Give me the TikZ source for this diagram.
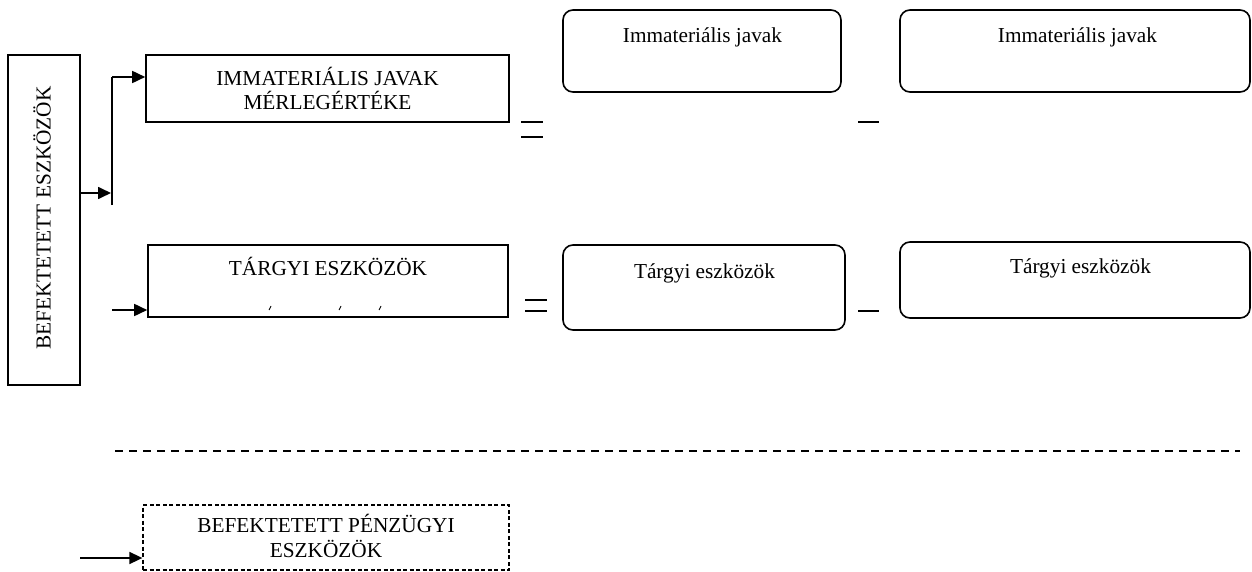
\documentclass[tikz,border=0pt]{standalone}
\usepackage{fontspec}
\setmainfont{Liberation Serif}
\usetikzlibrary{arrows.meta}
\begin{document}
\begin{tikzpicture}[x=1pt,y=-1pt,
  every node/.style={font=\fontsize{21.3}{24.5}\selectfont, inner sep=0pt},
  sqbox/.style={draw, line width=1.6pt, inner sep=0pt},
  rbox/.style={draw, line width=1.6pt, rounded corners=10pt, inner sep=0pt},
  dbox/.style={draw, line width=1.3pt, dash pattern=on 4pt off 2.5pt, inner sep=0pt},
  conn/.style={line width=1.7pt},
  arr/.style={conn, -{Triangle[length=13pt,width=12pt]}},
  sign/.style={line width=1.7pt},
  lbl/.style={anchor=base},
  tick/.style={line width=0.9pt}
]
\useasboundingbox (0,0) rectangle (1252,572);

% boxes
\node[sqbox, minimum width=72pt, minimum height=330pt] (L) at (44,220) {};
\node[sqbox, minimum width=363pt, minimum height=67pt] (imm) at (327.5,88.5) {};
\node[sqbox, minimum width=360pt, minimum height=72pt] (tgy) at (328,281) {};
\node[dbox, minimum width=366pt, minimum height=65pt] (bpe) at (326,537.5) {};
\node[rbox, minimum width=278pt, minimum height=82pt] (r1a) at (702,51) {};
\node[rbox, minimum width=350pt, minimum height=82pt] (r1b) at (1075,51) {};
\node[rbox, minimum width=282pt, minimum height=85pt] (r2a) at (704,287.5) {};
\node[rbox, minimum width=350pt, minimum height=76pt] (r2b) at (1075,280) {};

% texts
\node[lbl, rotate=90] (Lt) at (50.5,218) {BEFEKTETETT ESZKÖZÖK};
\node[lbl] (immt1) at (327.5,86) {IMMATERIÁLIS JAVAK};
\node[lbl] (immt2) at (327.5,110) {MÉRLEGÉRTÉKE};
\node[lbl] (tgyt) at (328,275) {TÁRGYI ESZKÖZÖK};
\node[lbl] (bpet1) at (326,532) {BEFEKTETETT PÉNZÜGYI};
\node[lbl] (bpet2) at (326,557) {ESZKÖZÖK};
\node[lbl] (r1at) at (702.5,43) {Immateriális javak};
\node[lbl] (r1bt) at (1077.5,43) {Immateriális javak};
\node[lbl] (r2at) at (704.5,278) {Tárgyi eszközök};
\node[lbl] (r2bt) at (1080.5,273) {Tárgyi eszközök};

% small marks in the TÁRGYI box
\draw[tick] (269,310) -- (271,306);
\draw[tick] (339,310) -- (341,306);
\draw[tick] (379,310) -- (381,306);

% connectors
\coordinate (jt) at (112,77);
\coordinate (jb) at (112,205);
\coordinate (jm) at (111,193);
\coordinate (a2) at (112,310);
\coordinate (a3) at (80,558);
\draw[arr] (L.east |- jm) -- (jm);
\draw[conn] (jb) -- (jt);
\draw[arr] (jt) -- (imm.west |- jt);
\draw[arr] (a2) -- (tgy.west |- a2);
\draw[arr] (a3) -- (bpe.west |- a3);

% signs
\draw[sign] (521,122) -- (543,122);
\draw[sign] (521,137) -- (543,137);
\draw[sign] (858,122) -- (879,122);
\draw[sign] (525,300) -- (547,300);
\draw[sign] (525,311) -- (547,311);
\draw[sign] (858,311) -- (879,311);

% dashed separator
\coordinate (dl) at (115,451);
\coordinate (dr) at (1240,451);
\draw[line width=2pt, dash pattern=on 8pt off 6pt] (dl) -- (dr);
\end{tikzpicture}
\end{document}
